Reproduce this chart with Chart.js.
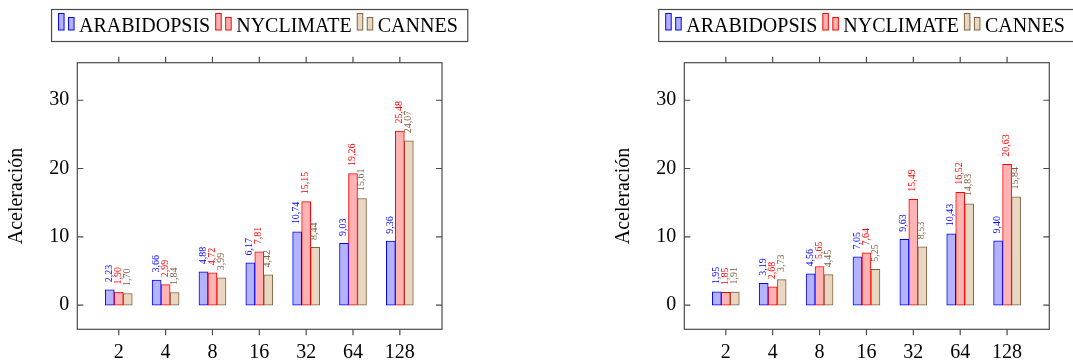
<!DOCTYPE html>
<html>
<head>
<meta charset="utf-8">
<script src="https://cdn.jsdelivr.net/npm/chart.js@4.4.0/dist/chart.umd.min.js"></script>
<style>
    html, body { margin: 0; padding: 0; background: #fff; overflow: hidden; }
    body { width: 1073px; height: 363px; position: relative; }
    canvas { position: absolute; top: 0; }
    #leftChart { left: 0; }
    #rightChart { left: 607px; }
</style>
</head>
<body>
<canvas id="leftChart" width="536" height="363"></canvas>
<canvas id="rightChart" width="466" height="363"></canvas>
<script>
// ===== 数据 =====
const categories = ['2', '4', '8', '16', '32', '64', '128'];
const yTicks = [0, 10, 20, 30];
const seriesNames = ['ARABIDOPSIS', 'NYCLIMATE', 'CANNES'];

// 左图
const leftArabidopsis = [2.23, 3.66, 4.88, 6.17, 10.74, 9.03, 9.36];
const leftNyclimate = [1.90, 2.99, 4.72, 7.81, 15.15, 19.26, 25.48];
const leftCannes = [1.70, 1.84, 3.99, 4.42, 8.44, 15.61, 24.07];

// 右图
const rightArabidopsis = [1.95, 3.19, 4.56, 7.05, 9.63, 10.43, 9.40];
const rightNyclimate = [1.85, 2.68, 5.65, 7.64, 15.49, 16.52, 20.63];
const rightCannes = [1.91, 3.73, 4.45, 5.25, 8.53, 14.83, 15.84];

// ===== 样式 =====
const SERIF = "'Liberation Serif', 'DejaVu Serif', serif";
const AXIS_COLOR = '#4a4a4a';
const borderColors = ['#0000ff', '#ff0000', '#80603f'];
const fillColors = ['#b3b3ff', '#ffb3b3', '#ead7c2'];

// 坐标框、刻度、数值标签和图例（pgfplots 风格）
const pgfPlugin = {
    id: 'pgfStyle',
    afterDatasetsDraw(chart) {
        const ctx = chart.ctx;
        ctx.save();
        ctx.font = '10px ' + SERIF;
        ctx.textAlign = 'left';
        ctx.textBaseline = 'middle';
        chart.data.datasets.forEach((ds, di) => {
            const meta = chart.getDatasetMeta(di);
            ctx.fillStyle = ds.borderColor;
            meta.data.forEach((bar, i) => {
                ctx.save();
                ctx.translate(bar.x - 0.5, bar.y - 7.5);
                ctx.rotate(-Math.PI / 2);
                ctx.fillText(ds.data[i].y.toFixed(2).replace('.', ','), 0, 0);
                ctx.restore();
            });
        });
        ctx.restore();
    },
    afterDraw(chart) {
        const ctx = chart.ctx;
        const area = chart.chartArea;
        const xs = chart.scales.x;
        const ys = chart.scales.y;
        ctx.save();
        ctx.strokeStyle = AXIS_COLOR;
        ctx.lineWidth = 1.2;
        ctx.strokeRect(area.left, area.top, area.right - area.left, area.bottom - area.top);
        ctx.beginPath();
        xs.ticks.forEach(t => {
            const px = xs.getPixelForValue(t.value);
            ctx.moveTo(px, area.bottom);
            ctx.lineTo(px, area.bottom + 6);
            ctx.moveTo(px, area.top);
            ctx.lineTo(px, area.top - 6);
        });
        ys.ticks.forEach(t => {
            const py = ys.getPixelForValue(t.value);
            ctx.moveTo(area.left, py);
            ctx.lineTo(area.left + 6, py);
            ctx.moveTo(area.right - 6, py);
            ctx.lineTo(area.right, py);
        });
        ctx.stroke();

        // 图例
        ctx.font = '20px ' + SERIF;
        const datasets = chart.data.datasets;
        const symW = 21, gap = 5, padL = 6.5, padR = 10;
        let total = padL + padR;
        datasets.forEach((ds, k) => {
            total += symW + ctx.measureText(ds.label).width;
            if (k < datasets.length - 1) total += gap;
        });
        const boxL = (area.left + area.right) / 2 - total / 2;
        const boxT = 9.5, boxH = 32;
        ctx.fillStyle = '#fff';
        ctx.fillRect(boxL, boxT, total, boxH);
        ctx.strokeStyle = AXIS_COLOR;
        ctx.strokeRect(boxL, boxT, total, boxH);
        let x = boxL + padL;
        datasets.forEach(ds => {
            ctx.lineWidth = 1;
            ctx.fillStyle = ds.backgroundColor;
            ctx.strokeStyle = ds.borderColor;
            ctx.fillRect(x + 0.5, 13.5, 5.5, 16.5);
            ctx.strokeRect(x + 0.5, 13.5, 5.5, 16.5);
            ctx.fillRect(x + 10.5, 17.5, 5.5, 12.5);
            ctx.strokeRect(x + 10.5, 17.5, 5.5, 12.5);
            ctx.fillStyle = '#000';
            ctx.textAlign = 'left';
            ctx.textBaseline = 'alphabetic';
            ctx.fillText(ds.label, x + symW, 31.7);
            x += symW + ctx.measureText(ds.label).width + gap;
        });
        ctx.restore();
    }
};

function makeDataset(k, values) {
    return {
        label: seriesNames[k],
        data: values.map((v, i) => ({ x: i, y: v })),
        backgroundColor: fillColors[k],
        borderColor: borderColors[k],
        borderWidth: 1,
        borderSkipped: false,
        barThickness: 9
    };
}

function makeChart(canvasId, series, padRight) {
    const ctx = document.getElementById(canvasId);
    return new Chart(ctx, {
        type: 'bar',
        data: { datasets: series.map((vals, k) => makeDataset(k, vals)) },
        options: {
            responsive: false,
            animation: false,
            devicePixelRatio: 1,
            layout: { padding: { left: 0, top: 62.7, right: padRight, bottom: 0 } },
            plugins: {
                legend: { display: false },
                tooltip: { enabled: false }
            },
            scales: {
                x: {
                    type: 'linear',
                    min: -0.885,
                    max: 6.9,
                    offset: false,
                    grid: { display: false, drawTicks: false, offset: false },
                    border: { display: false },
                    afterBuildTicks: s => { s.ticks = categories.map((c, i) => ({ value: i })); },
                    afterFit: s => { s.height = 33.7; },
                    ticks: {
                        autoSkip: false,
                        maxRotation: 0,
                        padding: 11.5,
                        color: '#000',
                        font: { family: SERIF, size: 20 },
                        callback: v => categories[v]
                    }
                },
                y: {
                    min: -3.55,
                    max: 35.5,
                    grid: { display: false, drawTicks: false },
                    border: { display: false },
                    afterBuildTicks: s => { s.ticks = yTicks.map(v => ({ value: v })); },
                    afterFit: s => { s.width = 77.3; },
                    ticks: {
                        padding: 8,
                        color: '#000',
                        font: { family: SERIF, size: 20 }
                    },
                    title: {
                        display: true,
                        text: 'Aceleración',
                        color: '#000',
                        font: { family: SERIF, size: 20 },
                        padding: { top: 5, bottom: 0 }
                    }
                }
            }
        },
        plugins: [pgfPlugin]
    });
}

makeChart('leftChart', [leftArabidopsis, leftNyclimate, leftCannes], 94);
makeChart('rightChart', [rightArabidopsis, rightNyclimate, rightCannes], 23.7);
</script>
</body>
</html>
